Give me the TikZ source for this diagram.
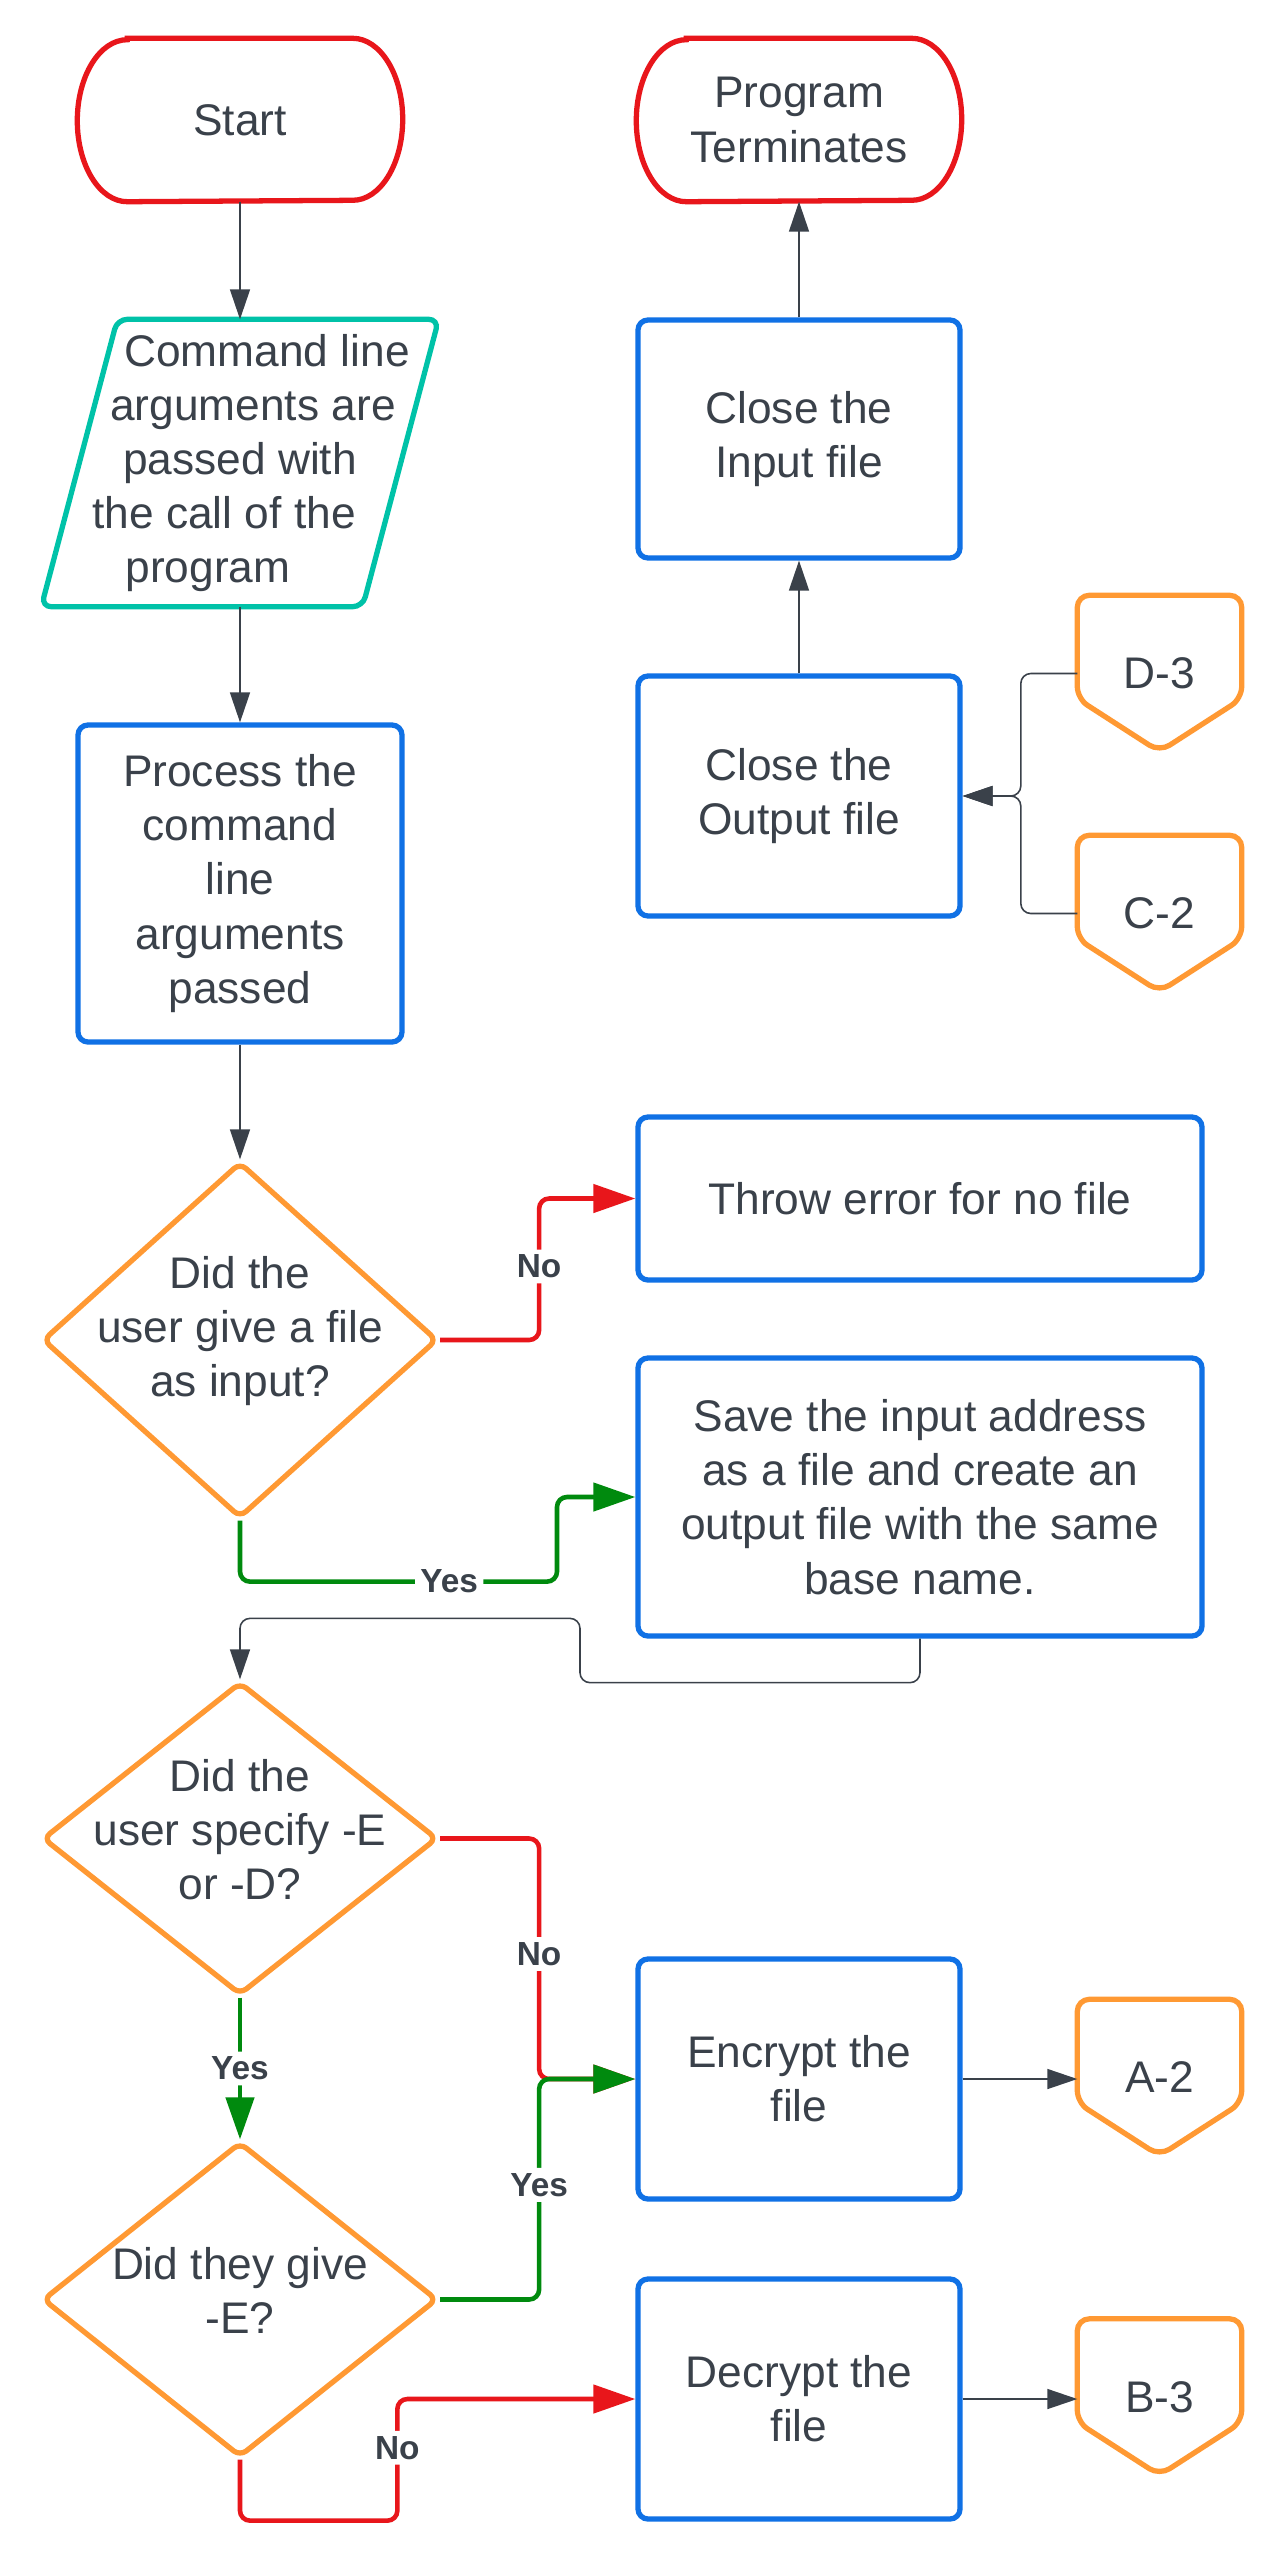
\documentclass[tikz,border=0pt]{standalone}
\usepackage{fontspec}
\setmainfont{Liberation Sans}
\usetikzlibrary{arrows.meta,calc,shapes.geometric}
\definecolor{Ink}{HTML}{3A414A}
\definecolor{LucidRed}{HTML}{E8161B}
\definecolor{LucidBlue}{HTML}{1071E5}
\definecolor{LucidOrange}{HTML}{FF9933}
\definecolor{LucidTeal}{HTML}{00C2A8}
\definecolor{LucidGreen}{HTML}{008A0E}
\newcommand\boxfont{\fontsize{12.6}{15.4}\selectfont}
\newcommand\tagfont{\fontsize{9.5}{11}\selectfont\bfseries}
\tikzset{
  process/.style={
    rounded corners=0.1cm, draw=LucidBlue, line width=1.5pt, fill=white,
    text=Ink, font=\boxfont, align=center, inner sep=0pt
  },
  textonly/.style={text=Ink, font=\boxfont, align=center, inner sep=0pt},
  outline/.style={line width=1.5pt},
  decision/.style={
    diamond, draw=LucidOrange, line width=1.5pt, rounded corners=0.08cm,
    minimum width=3.95cm, inner sep=0pt
  },
  question/.style={text=Ink, font=\boxfont, align=center, yshift=0.09cm},
  flow/.style={-{Triangle[length=0.3cm,width=0.2cm]}, line width=0.45pt, draw=Ink, rounded corners=0.1cm},
  yesflow/.style={-{Triangle[length=0.42cm,width=0.28cm]}, line width=1.3pt, draw=LucidGreen, rounded corners=0.1cm},
  noflow/.style={-{Triangle[length=0.42cm,width=0.28cm]}, line width=1.3pt, draw=LucidRed, rounded corners=0.1cm},
  answer/.style={fill=white, text=Ink, font=\tagfont, inner sep=1.5pt}
}
% start / end terminal with elliptic ends
\newcommand\terminal[3]{%
  \node[textonly, minimum width=3.24cm, minimum height=1.62cm] (#1) at (#2) {#3};
  \draw[outline, draw=LucidRed] ($(#1.north west)+(0.5,0)$) -- ($(#1.north east)+(-0.5,0)$)
    arc[start angle=90, end angle=-90, x radius=0.5, y radius=0.81]
    -- ($(#1.south west)+(0.5,0)$)
    arc[start angle=270, end angle=90, x radius=0.5, y radius=0.81] -- cycle;
}
% off-page reference
\newcommand\offpage[3]{%
  \node[textonly, minimum width=1.63cm, minimum height=1.55cm] (#1) at (#2) {#3};
  \draw[outline, draw=LucidOrange, rounded corners=0.12cm] (#1.north west) -- (#1.north east)
    -- ($(#1.south east)+(0,0.53)$) -- (#1.south) -- ($(#1.south west)+(0,0.53)$) -- cycle;
}

\begin{document}
\begin{tikzpicture}
  \fill[white] (0,0) rectangle (12.8,-25.6);
  \useasboundingbox (0,0) rectangle (12.8,-25.6);

  \terminal{start}{2.40,-1.20}{Start}
  \terminal{stop}{7.99,-1.20}{Program\\Terminates}

  \node[textonly, minimum width=3.20cm, minimum height=2.86cm,
    label={[textonly]center:{\hspace*{0.54cm}Command line\\\hspace*{0.26cm}arguments are\\passed with\\the call of the\hspace*{0.32cm}\mbox{}\\program\hspace*{0.64cm}\mbox{}}}]
    (args) at (2.40,-4.63) {};
  \draw[outline, draw=LucidTeal, rounded corners=0.1cm]
    ($(args.north west)+(0.38,0)$) -- ($(args.north east)+(0.38,0)$)
    -- ($(args.south east)+(-0.38,0)$) -- ($(args.south west)+(-0.38,0)$) -- cycle;

  \node[process, minimum width=3.24cm, minimum height=3.17cm] (parse) at (2.40,-8.835)
    {Process the\\command\\line\\arguments\\passed};
  \node[decision, minimum height=3.56cm,
    label={[question]center:{Did the\\user give a file\\as input?}}] (ask1) at (2.40,-13.40) {};
  \node[decision, minimum height=3.13cm,
    label={[question]center:{Did the\\user specify -E\\or -D?}}] (ask2) at (2.40,-18.385) {};
  \node[decision, minimum height=3.15cm,
    label={[question]center:{Did they give\\-E?}}] (ask3) at (2.40,-22.995) {};

  \node[process, minimum width=5.64cm, minimum height=1.63cm] (nofile) at (9.20,-11.985)
    {Throw error for no file};
  \node[process, minimum width=5.64cm, minimum height=2.78cm] (save) at (9.20,-14.97)
    {Save the input address\\as a file and create an\\output file with the same\\base name.};
  \node[process, minimum width=3.22cm, minimum height=2.40cm] (encrypt) at (7.99,-20.79)
    {Encrypt the\\file};
  \node[process, minimum width=3.22cm, minimum height=2.40cm] (decrypt) at (7.99,-23.99)
    {Decrypt the\\file};
  \node[process, minimum width=3.22cm, minimum height=2.38cm] (closein) at (7.99,-4.39)
    {Close the\\Input file};
  \node[process, minimum width=3.22cm, minimum height=2.40cm] (closeout) at (7.99,-7.96)
    {Close the\\Output file};

  \offpage{d3}{11.595,-6.735}{D-3}
  \offpage{c2}{11.595,-9.135}{C-2}
  \offpage{a2}{11.595,-20.775}{A-2}
  \offpage{b3}{11.595,-23.97}{B-3}

  % connectors
  \draw[flow] (start.south) -- (args.north);
  \draw[flow] (args.south) -- (parse.north);
  \draw[flow] (parse.south) -- (ask1.north);
  \draw[noflow] (ask1.east) -- ++(0.99,0) |- node[answer, pos=0.26] (no1) {No} (nofile.west);
  \draw[yesflow] (ask1.south) |- node[answer, pos=0.83] (yes1) {Yes} ($(ask1.south)+(3.17,-0.61)$)
    |- (save.west);
  \draw[flow] (save.south) -- ++(0,-0.44) -| ($(ask2.north)+(3.40,0.61)$) -| (ask2.north);
  \draw[noflow] (ask2.east) -- ++(0.99,0) |- node[answer, pos=0.24] (no2) {No} (encrypt.west);
  \draw[yesflow] (ask2.south) -- node[answer] (yes2) {Yes} (ask3.north);
  \draw[yesflow] (ask3.east) -- ++(0.99,0) |- node[answer, pos=0.26] (yes3) {Yes} (encrypt.west);
  \draw[noflow] (ask3.south) -- ++(0,-0.61) -| node[answer, pos=0.8] (no3) {No}
    ($(decrypt.west)+(-2.38,0)$) -- (decrypt.west);
  \draw[flow] (encrypt.east) -- (encrypt.east -| a2.west);
  \draw[flow] (decrypt.east) -- (decrypt.east -| b3.west);
  \draw[flow] (closeout.north) -- (closein.south);
  \draw[flow] (closein.north) -- (stop.south);
  \draw[flow] (d3.west) -- ++(-0.565,0) |- (closeout.east);
  \draw[flow] (c2.west) -- ++(-0.565,0) |- (closeout.east);
\end{tikzpicture}
\end{document}
